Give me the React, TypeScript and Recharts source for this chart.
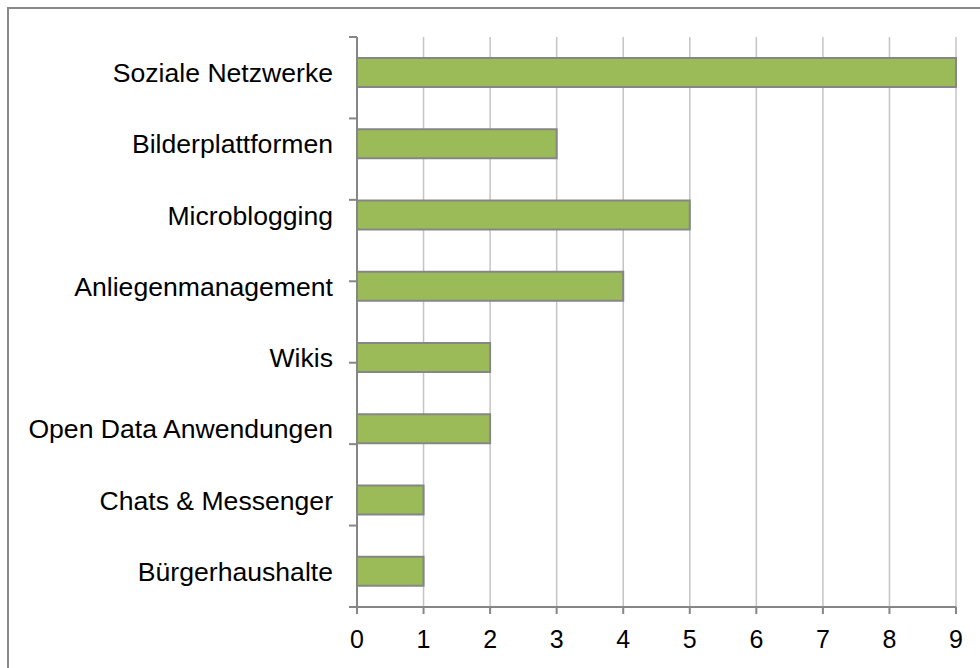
import React from 'react';
import { BarChart, Bar, XAxis, YAxis, CartesianGrid } from 'recharts';

const categories = [
  'Soziale Netzwerke',
  'Bilderplattformen',
  'Microblogging',
  'Anliegenmanagement',
  'Wikis',
  'Open Data Anwendungen',
  'Chats & Messenger',
  'Bürgerhaushalte',
];
const counts = [9, 3, 5, 4, 2, 2, 1, 1];
const xTicks = [0, 1, 2, 3, 4, 5, 6, 7, 8, 9];
const bandTicks = [0, 1, 2, 3, 4, 5, 6, 7, 8];

const data = categories.map((name, i) => ({ name, value: counts[i] }));

const font = 'Arial, "Liberation Sans", sans-serif';

const App: React.FC = () => {
  return (
    <div style={{ position: 'absolute', left: 0, top: 0, width: 980, height: 668, overflow: 'hidden', background: '#fff' }}>
      <div
        style={{
          position: 'absolute',
          left: 7,
          top: 7,
          width: 1000,
          height: 700,
          border: '2px solid #898989',
        }}
      />
      <div style={{ position: 'absolute', left: 0, top: 0 }}>
        <BarChart
          width={980}
          height={668}
          data={data}
          layout="vertical"
          margin={{ top: 37, right: 24, bottom: 0, left: 16 }}
        >
          <CartesianGrid horizontal={false} stroke="#c4c4c4" strokeWidth={1.5} />
          <XAxis
            type="number"
            domain={[0, 9]}
            ticks={xTicks}
            interval={0}
            height={61}
            stroke="#868686"
            strokeWidth={2}
            tickSize={7}
            tickMargin={16}
            tick={{ fill: '#000', fontSize: 25, fontFamily: font }}
          />
          <YAxis
            yAxisId="bands"
            type="number"
            domain={[0, 8]}
            ticks={bandTicks}
            interval={0}
            width={1}
            stroke="#868686"
            strokeWidth={2}
            tickSize={8}
            tickLine={{ stroke: '#868686', strokeWidth: 2 }}
            tickFormatter={() => ''}
          />
          <YAxis
            yAxisId="cat"
            type="category"
            dataKey="name"
            width={340}
            axisLine={false}
            tickLine={false}
            tickSize={0}
            tickMargin={23}
            interval={0}
            tick={{ fill: '#000', fontSize: 26.6, fontFamily: font }}
          />
          <Bar
            yAxisId="cat"
            dataKey="value"
            fill="#9BBB59"
            stroke="#868686"
            strokeWidth={2}
            barSize={29}
            isAnimationActive={false}
          />
        </BarChart>
      </div>
    </div>
  );
};

export default App;
